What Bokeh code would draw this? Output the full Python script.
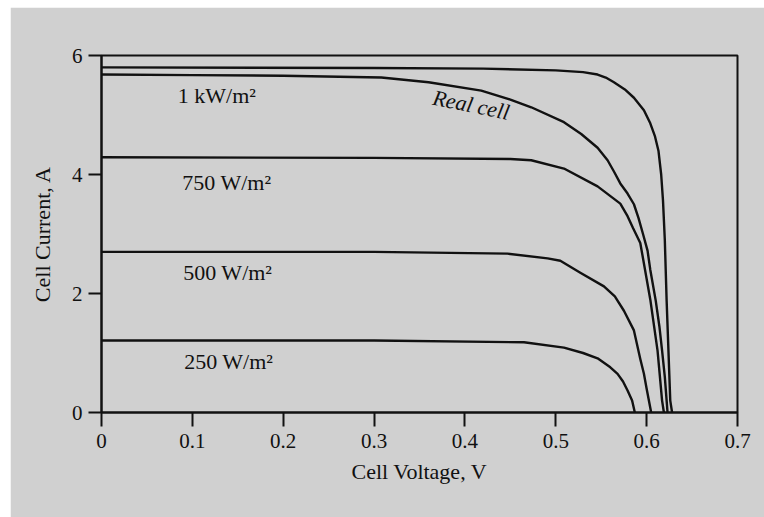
from bokeh.plotting import figure
from bokeh.models import FixedTicker, Label, Range1d, Spacer
from bokeh.layouts import column, row
from bokeh.embed import file_html
from bokeh.resources import INLINE

# ---- data (V in volts, I in amps) ----
ideal_v = [0.0, 0.30, 0.42, 0.50, 0.53, 0.546, 0.555, 0.564, 0.576, 0.586, 0.597, 0.604, 0.609, 0.613, 0.616, 0.618, 0.620, 0.622, 0.626, 0.628]
ideal_i = [5.80, 5.79, 5.78, 5.75, 5.72, 5.68, 5.63, 5.55, 5.43, 5.29, 5.08, 4.86, 4.65, 4.40, 4.00, 3.56, 2.90, 1.88, 0.20, 0.0]

real_v = [0.0, 0.10, 0.20, 0.308, 0.36, 0.418, 0.45, 0.473, 0.509, 0.528, 0.546, 0.557, 0.564, 0.571, 0.579, 0.586, 0.591, 0.596, 0.601, 0.604, 0.610, 0.614, 0.617, 0.620, 0.622, 0.623]
real_i = [5.68, 5.67, 5.66, 5.63, 5.55, 5.41, 5.26, 5.13, 4.88, 4.68, 4.45, 4.24, 4.05, 3.85, 3.68, 3.50, 3.27, 3.00, 2.72, 2.40, 1.88, 1.45, 1.04, 0.60, 0.20, 0.0]

w750_v = [0.0, 0.30, 0.45, 0.473, 0.509, 0.546, 0.571, 0.579, 0.585, 0.593, 0.604, 0.612, 0.617, 0.619]
w750_i = [4.29, 4.28, 4.26, 4.24, 4.10, 3.80, 3.51, 3.30, 3.10, 2.85, 1.90, 1.04, 0.20, 0.0]

w500_v = [0.0, 0.30, 0.447, 0.491, 0.505, 0.527, 0.553, 0.565, 0.575, 0.586, 0.593, 0.597, 0.600, 0.605]
w500_i = [2.70, 2.70, 2.67, 2.59, 2.55, 2.35, 2.12, 1.95, 1.71, 1.38, 0.90, 0.65, 0.40, 0.0]

w250_v = [0.0, 0.30, 0.465, 0.509, 0.530, 0.546, 0.560, 0.568, 0.574, 0.579, 0.584, 0.587]
w250_i = [1.21, 1.21, 1.18, 1.09, 1.00, 0.91, 0.76, 0.65, 0.52, 0.37, 0.20, 0.0]

x_ticks = [0, 0.1, 0.2, 0.3, 0.4, 0.5, 0.6, 0.7]
y_ticks = [0, 2, 4, 6]

curve_labels = ["1 kW/m\u00b2", "750 W/m\u00b2", "500 W/m\u00b2", "250 W/m\u00b2"]
label_x = [0.084, 0.089, 0.090, 0.091]
label_y = [5.33, 3.86, 2.36, 0.86]

FONT = "Liberation Serif"
GRAY = "#d0d0d0"
INK = "#111111"

p = figure(width=754, height=510, output_backend="svg", toolbar_location=None,
           x_range=Range1d(0, 0.7), y_range=Range1d(0, 6),
           min_border_left=91, min_border_right=27, min_border_top=48, min_border_bottom=105)
p.background_fill_color = GRAY
p.border_fill_color = GRAY
p.outline_line_color = INK
p.outline_line_width = 2
p.grid.visible = False

for xs, ys in [(ideal_v, ideal_i), (real_v, real_i), (w750_v, w750_i), (w500_v, w500_i), (w250_v, w250_i)]:
    p.line(xs, ys, line_color=INK, line_width=2.4, line_join="round")

p.xaxis.ticker = FixedTicker(ticks=x_ticks)
p.yaxis.ticker = FixedTicker(ticks=y_ticks)
p.xaxis.major_label_overrides = {0: "0"}
for ax in (p.xaxis, p.yaxis):
    ax.axis_line_color = INK
    ax.axis_line_width = 2
    ax.major_tick_line_color = INK
    ax.major_tick_line_width = 2
    ax.major_tick_in = 0
    ax.minor_tick_line_color = None
    ax.major_label_text_font = FONT
    ax.major_label_text_font_size = "21px"
    ax.major_label_text_color = INK
    ax.axis_label_text_font = FONT
    ax.axis_label_text_font_size = "22px"
    ax.axis_label_text_font_style = "normal"
    ax.axis_label_text_color = INK

p.xaxis.axis_label = "Cell Voltage, V"
p.yaxis.axis_label = "Cell Current, A"
p.xaxis.major_tick_out = 14
p.yaxis.major_tick_out = 13
p.xaxis.major_label_standoff = 7
p.yaxis.major_label_standoff = 6
p.xaxis.axis_label_standoff = 8
p.yaxis.axis_label_standoff = 14

for t, lx, ly in zip(curve_labels, label_x, label_y):
    p.add_layout(Label(x=lx, y=ly, text=t, text_font=FONT, text_font_size="22px",
                       text_color=INK, text_baseline="alphabetic", text_align="left"))

p.add_layout(Label(x=0.365, y=5.30, text="Real cell", text_font=FONT, text_font_size="22px",
                   text_font_style="italic", text_color=INK, angle=-0.2,
                   text_baseline="alphabetic", text_align="left"))

layout = column(Spacer(height=7), row(Spacer(width=10), p))
open("out.html", "w").write(file_html(layout, INLINE))
